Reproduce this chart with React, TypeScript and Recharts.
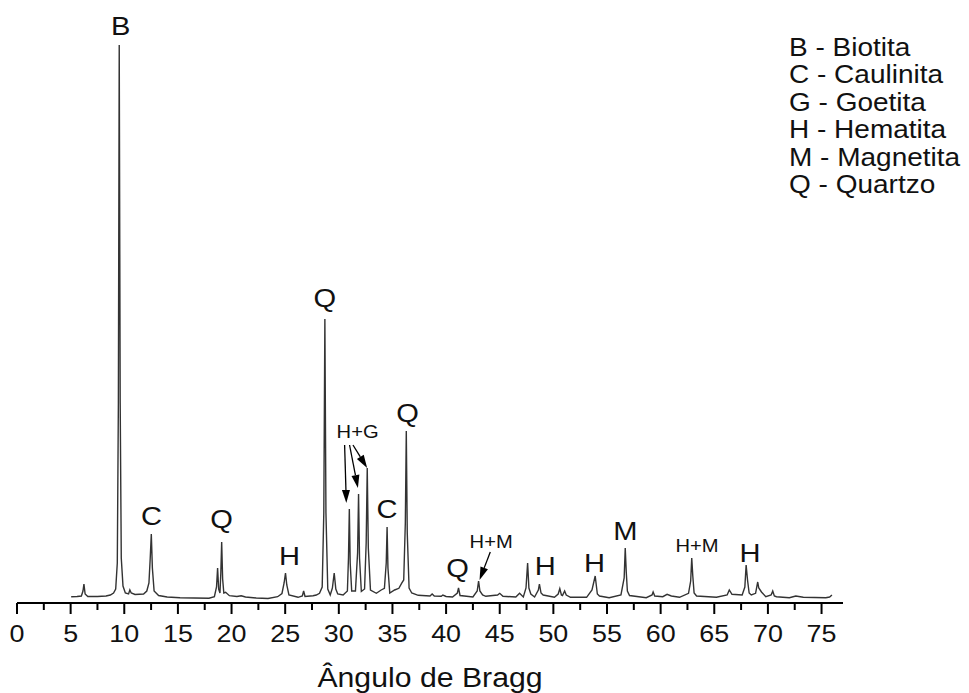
import React from "react";
import { LineChart, Line, XAxis, YAxis, ReferenceDot, ReferenceLine } from "recharts";

// XRD pattern: [2θ, intensity (a.u.)]
const pattern: [number, number][] = [
  [5.05, 6.3], [5.6, 6.5], [6.0, 7], [6.15, 12], [6.24, 19], [6.35, 9], [6.6, 6.5],
  [7.5, 6.5], [8.3, 7], [8.7, 8], [9.0, 10], [9.2, 14], [9.35, 40], [9.45, 200],
  [9.53, 558], [9.62, 200], [9.72, 45], [9.88, 17], [10.1, 10], [10.4, 9], [10.52, 13],
  [10.65, 10], [11.0, 8.5], [11.8, 9], [12.1, 12], [12.3, 20], [12.42, 45], [12.52, 69],
  [12.62, 35], [12.78, 12], [13.2, 7.5], [14.0, 6], [15.2, 5.3], [16.5, 5], [17.9, 4.8],
  [18.4, 6.3], [18.6, 16], [18.7, 35], [18.8, 14], [18.92, 10], [19.0, 30], [19.08, 61],
  [19.17, 24], [19.28, 10], [19.45, 10.7], [19.8, 7.3], [20.5, 6.5], [20.9, 7.2], [21.3, 6],
  [22.3, 5], [23.4, 4.5], [24.3, 6.3], [24.7, 9.5], [24.9, 20], [25.03, 30], [25.15, 18],
  [25.35, 8], [26.2, 5.7], [26.6, 7], [26.72, 12], [26.85, 6.5], [27.6, 7.3], [27.9, 8],
  [28.2, 9.7], [28.45, 16], [28.6, 90], [28.7, 284], [28.8, 90], [28.97, 14], [29.2, 8],
  [29.4, 15], [29.57, 30], [29.72, 14], [29.9, 9], [30.4, 8], [30.8, 12], [30.9, 45],
  [30.98, 94], [31.06, 40], [31.2, 12], [31.55, 12], [31.75, 50], [31.84, 109], [31.93, 45],
  [32.1, 11.5], [32.4, 14], [32.55, 60], [32.65, 135], [32.75, 55], [32.95, 13], [33.5, 9.7],
  [33.95, 13], [34.25, 14.7], [34.42, 40], [34.5, 76], [34.58, 35], [34.75, 10], [35.2, 13],
  [35.6, 14.7], [35.85, 19.7], [36.05, 23], [36.2, 80], [36.29, 172], [36.38, 70], [36.55, 15],
  [36.8, 10], [37.4, 7.7], [38.5, 7], [38.7, 9], [38.9, 7], [39.55, 6.7], [39.7, 8], [40.0, 6.5],
  [40.6, 6], [41.05, 10], [41.16, 15], [41.3, 7.5], [42.5, 6], [42.9, 12], [43.03, 22],
  [43.15, 12], [43.4, 8], [43.7, 6.7], [44.8, 8], [45.0, 9.7], [45.3, 6.7], [46.5, 6],
  [46.85, 9.7], [47.2, 6], [47.45, 15], [47.6, 40], [47.72, 15], [47.9, 9], [48.25, 6],
  [48.6, 13], [48.7, 19], [48.85, 10], [49.05, 8], [50.1, 5.7], [50.45, 9], [50.6, 14.3],
  [50.75, 8], [50.85, 7.5], [51.05, 12], [51.2, 8], [51.6, 5.7], [53.1, 5.7], [53.6, 13],
  [53.9, 27], [54.1, 9], [54.3, 7], [55.2, 5.3], [56.3, 8], [56.6, 25], [56.7, 55], [56.8, 30],
  [56.9, 12], [57.1, 7.5], [58.66, 5.3], [59.2, 8], [59.3, 11], [59.45, 7], [60.2, 6.3],
  [60.6, 8.7], [61.0, 7], [61.76, 5.7], [62.6, 9.7], [62.8, 22], [62.9, 45], [63.0, 26.7],
  [63.12, 10], [63.35, 7], [65.2, 5.7], [66.2, 8], [66.4, 13], [66.65, 8.7], [67.6, 8],
  [67.85, 16], [67.97, 38], [68.1, 23], [68.25, 10], [68.45, 8], [68.85, 9.7], [69.05, 21],
  [69.15, 15], [69.4, 11], [69.8, 6.3], [70.3, 8], [70.45, 12], [70.6, 7], [70.8, 6.3],
  [72.0, 5.3], [72.6, 7], [73.3, 5.7], [75.4, 5.3], [75.75, 6], [75.97, 8],
];

const majorTicks = [0, 5, 10, 15, 20, 25, 30, 35, 40, 45, 50, 55, 60, 65, 70, 75];
const minorTicks = [2.5, 7.5, 12.5, 17.5, 22.5, 27.5, 32.5, 37.5, 42.5, 47.5, 52.5, 57.5, 62.5, 67.5, 72.5];

// peak labels: position in (2θ, intensity) of the text baseline
const peakLabels = [
  { x: 9.67, y: 568, text: "B", small: false },
  { x: 12.55, y: 78, text: "C", small: false },
  { x: 19.07, y: 75, text: "Q", small: false },
  { x: 25.4, y: 38, text: "H", small: false },
  { x: 28.7, y: 296, text: "Q", small: false },
  { x: 31.75, y: 165, text: "H+G", small: true },
  { x: 34.5, y: 85, text: "C", small: false },
  { x: 36.4, y: 181, text: "Q", small: false },
  { x: 41.07, y: 26, text: "Q", small: false },
  { x: 44.2, y: 55, text: "H+M", small: true },
  { x: 49.24, y: 28, text: "H", small: false },
  { x: 53.84, y: 31, text: "H", small: false },
  { x: 56.71, y: 63, text: "M", small: false },
  { x: 63.39, y: 51, text: "H+M", small: true },
  { x: 68.33, y: 41, text: "H", small: false },
];

const arrows = [
  { from: [30.54, 158], to: [30.7, 100] },
  { from: [31.0, 158], to: [31.78, 115] },
  { from: [31.32, 158], to: [32.64, 135] },
  { from: [44.12, 51], to: [43.12, 23] },
];

const legendItems = [
  "B - Biotita",
  "C - Caulinita",
  "G - Goetita",
  "H - Hematita",
  "M - Magnetita",
  "Q - Quartzo",
];

const FONT = "'Liberation Sans', Arial, sans-serif";
const STRETCH = 1.12; // the original lettering is a little wider than Arial
const data = pattern.map(([t, i]) => ({ t, i }));

function WideText({ x, y, size, children }: any) {
  return (
    <text
      transform={`translate(${x},${y}) scale(${STRETCH},1)`}
      textAnchor="middle"
      fontSize={size}
      fontFamily={FONT}
      fill="#111"
    >
      {children}
    </text>
  );
}

function BraggTick(props: any) {
  const { x, y, payload } = props;
  const major = payload.value % 5 === 0;
  return (
    <g>
      <line x1={x} x2={x} y1={y} y2={y + (major ? 11 : 7)} stroke="#000" strokeWidth={2} />
      {major && (
        <WideText x={x} y={y + 39} size={24}>
          {payload.value}
        </WideText>
      )}
    </g>
  );
}

function AxisTitle(props: any) {
  const { viewBox } = props;
  if (!viewBox) return null;
  return (
    <WideText x={viewBox.x + viewBox.width / 2} y={viewBox.y + viewBox.height - 6} size={27}>
      Ângulo de Bragg
    </WideText>
  );
}

function Arrow(props: any) {
  const { x1, y1, x2, y2 } = props;
  const dx = x2 - x1;
  const dy = y2 - y1;
  const len = Math.sqrt(dx * dx + dy * dy) || 1;
  const ux = dx / len;
  const uy = dy / len;
  const head = 13;
  const half = 4;
  const bx = x2 - ux * head;
  const by = y2 - uy * head;
  return (
    <g>
      <line x1={x1} y1={y1} x2={bx} y2={by} stroke="#000" strokeWidth={1.3} />
      <polygon
        points={`${x2},${y2} ${bx - uy * half},${by + ux * half} ${bx + uy * half},${by - ux * half}`}
        fill="#000"
      />
    </g>
  );
}

export default function App() {
  return (
    <div style={{ position: "absolute", left: 0, top: 0, width: 969, height: 693, background: "#fff", fontFamily: FONT }}>
      <LineChart width={969} height={693} data={data} margin={{ top: 43, right: 126, bottom: 0, left: 17 }}>
        <XAxis
          dataKey="t"
          type="number"
          domain={[0, 77]}
          ticks={[...majorTicks, ...minorTicks].sort((a, b) => a - b)}
          interval={0}
          height={90}
          tickSize={0}
          tickMargin={0}
          tickLine={false}
          axisLine={{ stroke: "#000", strokeWidth: 2 }}
          tick={<BraggTick />}
          label={<AxisTitle />}
        />
        <YAxis hide type="number" domain={[0, 560]} />
        <Line
          type="linear"
          dataKey="i"
          stroke="#333"
          strokeWidth={1.4}
          dot={false}
          isAnimationActive={false}
        />
        {arrows.map((a, k) => (
          <ReferenceLine
            key={"a" + k}
            segment={[{ x: a.from[0], y: a.from[1] }, { x: a.to[0], y: a.to[1] }]}
            shape={<Arrow />}
            ifOverflow="visible"
          />
        ))}
        {peakLabels.map((p, k) => (
          <ReferenceDot
            key={"p" + k}
            x={p.x}
            y={p.y}
            ifOverflow="visible"
            shape={(s: any) => (
              <WideText x={s.cx} y={s.cy} size={p.small ? 18 : 26}>
                {p.text}
              </WideText>
            )}
          />
        ))}
      </LineChart>
      <div
        style={{
          position: "absolute",
          left: 789,
          top: 34,
          fontSize: 25,
          lineHeight: "27.4px",
          color: "#111",
          transform: `scaleX(${STRETCH})`,
          transformOrigin: "left top",
          whiteSpace: "nowrap",
        }}
      >
        {legendItems.map((s) => (
          <div key={s}>{s}</div>
        ))}
      </div>
    </div>
  );
}
